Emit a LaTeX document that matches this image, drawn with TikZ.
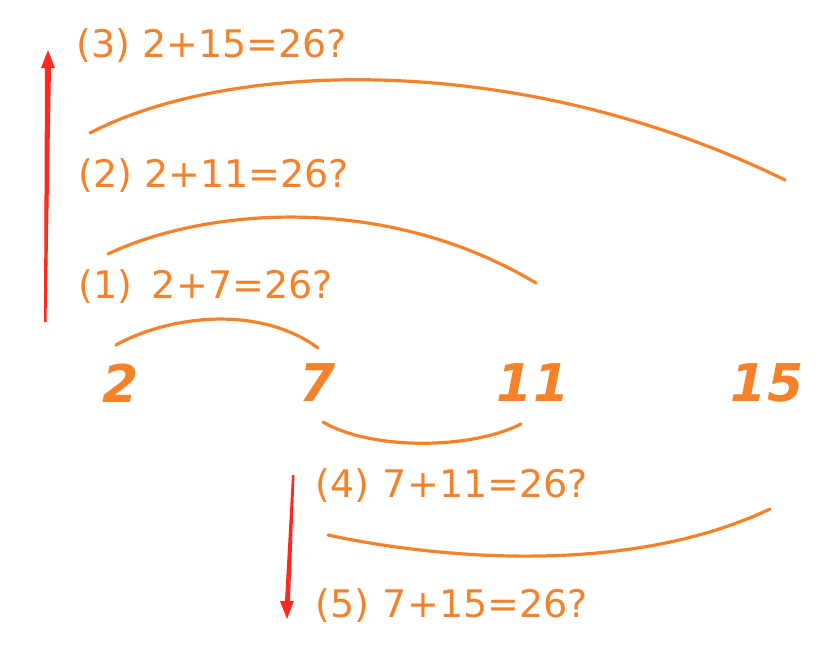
\documentclass[tikz,border=0pt]{standalone}
\usepackage{fontspec}
\setmainfont{DejaVu Sans}
\usetikzlibrary{arrows.meta}
\definecolor{org}{HTML}{F5822A}
\definecolor{redarr}{HTML}{FF2A1F}
\tikzset{
  lbl/.style={anchor=west, text=org, inner sep=0pt, font=\fontsize{38}{40}\selectfont},
  num/.style={text=org, inner sep=0pt, font=\fontsize{52}{54}\selectfont\bfseries\itshape},
  arc/.style={draw=org, line width=3.2, line cap=round},
  redarrow/.style={fill=redarr, draw=none}
}
\begin{document}
\begin{tikzpicture}[x=1pt,y=-1pt]
\useasboundingbox (0,0) rectangle (838,667);
% labels
\node[lbl] (l3) at (76,46) {(3) 2+15=26?};
\node[lbl] (l2) at (78,176) {(2) 2+11=26?};
\node[lbl] (l1) at (78,287) {(1)\hspace{20pt}2+7=26?};
\node[lbl] (l4) at (315,486) {(4)\hspace{14pt}7+11=26?};
\node[lbl] (l5) at (315,606) {(5)\hspace{14pt}7+15=26?};
% numbers
\node[num] (n2) at (121,383) {2};
\node[num] (n7) at (318,383) {7};
\node[num] (n11) at (533,383) {11};
\node[num] (n15) at (767,383) {15};
% arc end points
\coordinate (a3s) at (90,133);  \coordinate (a3e) at (785,180);
\coordinate (a2s) at (108,254); \coordinate (a2e) at (536,283);
\coordinate (a1s) at (116,345); \coordinate (a1e) at (318,348);
\coordinate (bs) at (323,422);  \coordinate (be) at (521,424);
\coordinate (a4s) at (328,535); \coordinate (a4e) at (770,509);
% arcs
\draw[arc] (a3s) .. controls (230,60) and (520,50) .. (a3e);
\draw[arc] (a2s) .. controls (200,210) and (380,190) .. (a2e);
\draw[arc] (a1s) .. controls (170,315) and (260,305) .. (a1e);
\draw[arc] (bs) .. controls (370,450) and (470,450) .. (be);
\draw[arc] (a4s) .. controls (420,555) and (620,580) .. (a4e);
% red arrows (tapered)
\coordinate (u1) at (48,50);
\coordinate (d1) at (287,619);
\fill[redarrow] (44,322) -- (45,68) -- (41,68) -- (u1) -- (55,68) -- (51,68) -- (46.5,322) -- cycle;
\fill[redarrow] (292,475) -- (285,601) -- (280,601) -- (d1) -- (294,601) -- (290,601) -- (294.5,475) -- cycle;
\end{tikzpicture}
\end{document}
